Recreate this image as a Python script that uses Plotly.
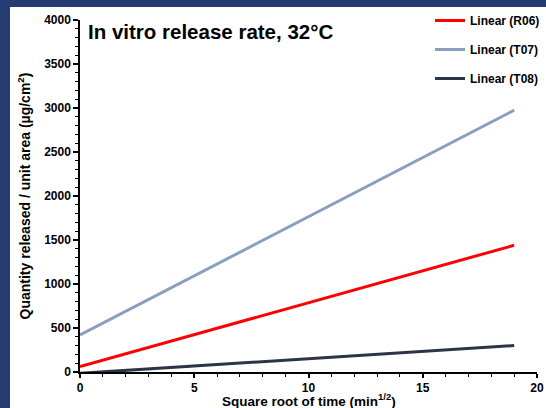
import plotly.graph_objects as go

# Data: linear fits, x = square root of time (min^1/2)
series_names = ["Linear (R06)", "Linear (T07)", "Linear (T08)"]
x_vals = [0, 19]
r06 = [62, 1440]
t07 = [420, 2975]
t08 = [-15, 300]
colors = ["#ff0000", "#8a9fbe", "#2b3546"]

BLUE = "#243c70"
FONT = "Arial, Liberation Sans, sans-serif"

W, H = 546, 408
ML, MR, MT, MB = 80, 9, 20, 36
PW, PH = W - ML - MR, H - MT - MB

def px2x(p):
    return (p - ML) / PW

def py2y(p):
    return (H - MB - p) / PH

fig = go.Figure()
for i, (name, ys) in enumerate(zip(series_names, [r06, t07, t08])):
    fig.add_trace(go.Scatter(
        x=x_vals, y=ys, mode="lines", name=name,
        line=dict(color=colors[i], width=3),
        legendgroup=f"g{i}",
    ))

fig.update_layout(
    width=W, height=H,
    margin=dict(l=ML, r=MR, t=MT, b=MB, pad=0, autoexpand=False),
    paper_bgcolor="white", plot_bgcolor="white",
    font=dict(family=FONT, color="black"),
    showlegend=True,
    legend=dict(
        x=px2x(430), y=py2y(6), xanchor="left", yanchor="top",
        font=dict(size=12, family=FONT, color="black", weight="bold"),
        bgcolor="rgba(0,0,0,0)", traceorder="grouped", tracegroupgap=10,
        itemwidth=30,
    ),
    xaxis=dict(
        range=[0, 20], tickvals=[0, 5, 10, 15, 20],
        showgrid=False, zeroline=False, automargin=False,
        showline=True, linecolor="black", linewidth=1.5,
        ticks="outside", ticklen=4, tickwidth=1.5, tickcolor="black",
        tickfont=dict(size=12, family=FONT, weight="bold"),
        minor=dict(dtick=1, ticks="outside", ticklen=3, tickwidth=1.2, tickcolor="black"),
    ),
    yaxis=dict(
        range=[0, 4000], tickvals=[0, 500, 1000, 1500, 2000, 2500, 3000, 3500, 4000],
        showgrid=False, zeroline=False, automargin=False,
        showline=True, linecolor="black", linewidth=1.5,
        ticks="outside", ticklen=5, tickwidth=1.5, tickcolor="black",
        tickfont=dict(size=12, family=FONT, weight="bold"),
        minor=dict(dtick=100, ticks="outside", ticklen=3, tickwidth=1.2, tickcolor="black"),
        title=dict(text="Quantity released / unit area (µg/cm<sup>2</sup>)",
                   font=dict(size=14, family=FONT, weight="bold"), standoff=10),
    ),
    shapes=[
        dict(type="rect", xref="paper", yref="paper",
             x0=px2x(-5), x1=px2x(10), y0=py2y(H + 5), y1=py2y(-5),
             fillcolor=BLUE, line=dict(width=0), layer="below"),
        dict(type="rect", xref="paper", yref="paper",
             x0=px2x(-5), x1=px2x(W + 5), y0=py2y(7), y1=py2y(-5),
             fillcolor=BLUE, line=dict(width=0), layer="below"),
    ],
    annotations=[
        dict(text="In vitro release rate, 32°C", xref="paper", yref="paper",
             x=px2x(86), y=py2y(31), xanchor="left", yanchor="middle",
             showarrow=False, font=dict(size=20.5, family=FONT, weight="bold", color="black")),
        dict(text="Square root of time (min<sup>1/2</sup>)", xref="paper", yref="paper",
             x=0.5, y=py2y(410), xanchor="center", yanchor="bottom", borderpad=0,
             showarrow=False, font=dict(size=13.5, family=FONT, weight="bold", color="black")),
    ],
)

fig.write_html("out.html")
